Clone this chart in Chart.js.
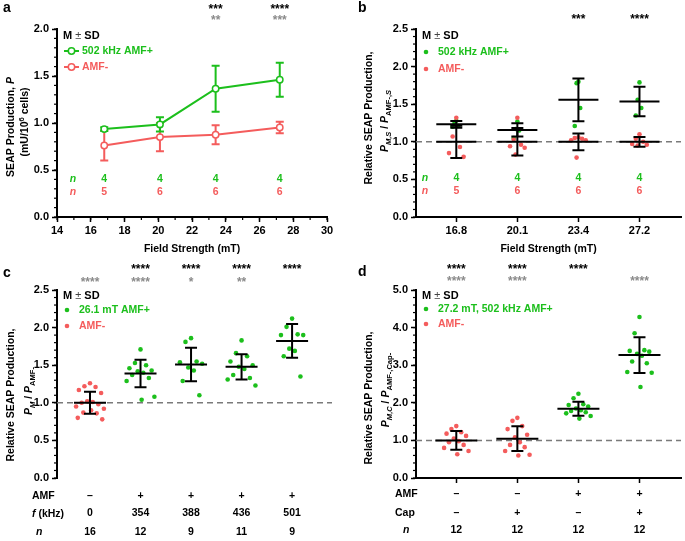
<!DOCTYPE html>
<html>
<head>
<meta charset="utf-8">
<script src="https://cdn.jsdelivr.net/npm/chart.js@4.4.1/dist/chart.umd.min.js"></script>
<style>
body { margin: 0; background: #fff; width: 685px; height: 541px; position: relative; overflow: hidden; }
canvas { position: absolute; }
</style>
</head>
<body>
<canvas id="chartA" width="340" height="262" style="left:0;top:0"></canvas>
<canvas id="chartB" width="345" height="262" style="left:340px;top:0"></canvas>
<canvas id="chartC" width="340" height="279" style="left:0;top:262px"></canvas>
<canvas id="chartD" width="345" height="279" style="left:340px;top:262px"></canvas>
<script>
// ---- data: panel a (absolute SEAP production vs field strength)
const fieldA = [16.8, 20.1, 23.4, 27.2];
const onMeanA = [0.935, 0.985, 1.365, 1.46];
const onSdA = [0.02, 0.075, 0.245, 0.18];
const offMeanA = [0.76, 0.85, 0.875, 0.952];
const offSdA = [0.16, 0.15, 0.1, 0.062];
const nOnA = ['4', '4', '4', '4'];
const nOffA = ['5', '6', '6', '6'];
const starsA = ['', '', '***', '****'];
const starsGrayA = ['', '', '**', '***'];

// ---- data: panel b (relative, per field strength)
const catsB = ['16.8', '20.1', '23.4', '27.2'];
const onB = [[1.28, 1.25, 1.21, 1.20], [1.27, 1.17, 1.15, 1.05], [1.80, 1.78, 1.45, 1.21], [1.79, 1.56, 1.45, 1.35]];
const offB = [[1.32, 1.07, 0.93, 0.85, 0.80], [1.32, 1.03, 0.96, 0.94, 0.92, 0.83],
              [1.06, 1.05, 1.04, 1.02, 1.02, 0.79], [1.10, 1.04, 1.00, 0.97, 0.96, 0.95]];
const onMeanB = [1.232, 1.158, 1.558, 1.536];
const onSdB = [0.045, 0.088, 0.285, 0.195];
const offMeanB = [1, 1, 1, 1];
const offSdB = [0.214, 0.183, 0.112, 0.065];
const nOnB = ['4', '4', '4', '4'];
const nOffB = ['5', '6', '6', '6'];
const starsB = ['', '', '***', '****'];

// ---- data: panel c (relative, per frequency)
const amfC = ['–', '+', '+', '+', '+'];
const freqC = ['0', '354', '388', '436', '501'];
const nC = ['16', '12', '9', '11', '9'];
const offC = [[1.26, 1.22, 1.21, 1.17, 1.13, 1.02, 1.01, 1.0, 0.98, 0.95, 0.92, 0.90, 0.87, 0.86, 0.80, 0.78]];
const onC = [[],
  [1.71, 1.53, 1.50, 1.46, 1.43, 1.42, 1.40, 1.37, 1.33, 1.29, 1.08, 1.04],
  [1.86, 1.81, 1.55, 1.54, 1.52, 1.47, 1.43, 1.29, 1.10],
  [1.83, 1.66, 1.62, 1.55, 1.50, 1.48, 1.45, 1.37, 1.33, 1.31, 1.23],
  [2.12, 2.01, 1.91, 1.90, 1.90, 1.72, 1.69, 1.62, 1.35]];
const meanC = [1.0, 1.39, 1.51, 1.478, 1.823];
const sdC = [0.147, 0.183, 0.222, 0.168, 0.225];
const starsC = ['', '****', '****', '****', '****'];
const starsGrayC = ['****', '****', '*', '**', ''];

// ---- data: panel d (relative, AMF x capsaicin)
const amfD = ['–', '–', '+', '+'];
const capD = ['–', '+', '–', '+'];
const nD = ['12', '12', '12', '12'];
const offD = [[1.38, 1.30, 1.22, 1.18, 1.12, 1.05, 0.98, 0.95, 0.88, 0.80, 0.72, 0.63],
              [1.60, 1.52, 1.38, 1.30, 1.15, 1.08, 0.95, 0.88, 0.82, 0.72, 0.62, 0.60]];
const onD = [[], [],
  [2.24, 2.12, 1.96, 1.94, 1.90, 1.85, 1.80, 1.78, 1.75, 1.72, 1.65, 1.58],
  [4.28, 3.85, 3.40, 3.38, 3.36, 3.30, 3.25, 3.10, 3.05, 2.82, 2.80, 2.42]];
const meanD = [1.0, 1.045, 1.84, 3.27];
const sdD = [0.25, 0.33, 0.185, 0.475];
const starsD = ['****', '****', '****', ''];
const starsGrayD = ['****', '****', '', '****'];

const FAMILY = '"Liberation Sans", Arial, sans-serif';
const GREEN = '#1cbf1c';
const RED = '#f45c5c';
const GRAY = '#8a8a8a';

Chart.defaults.font.family = FAMILY;
Chart.defaults.font.size = 11;
Chart.defaults.font.weight = 'bold';
Chart.defaults.color = '#000';
Chart.defaults.animation = false;
Chart.defaults.plugins.legend.display = false;
Chart.defaults.plugins.tooltip.enabled = false;

// horizontal spread for dot plots, alternating left/right
const JIT = [0, -1, 1, -2, 2, -0.5, 0.5, -1.5, 1.5, -2.5, 2.5, 0.2, -1.2, 1.2, -2.2, 2.2];
function swarm(groups, spread) {
    return groups.flatMap((vals, i) => vals.map((v, j) => ({ x: i + JIT[j % JIT.length] * spread, y: v })));
}

function text(ctx, str, x, y, o) {
    o = o || {};
    ctx.save();
    ctx.font = (o.it ? 'italic ' : '') + (o.normal ? '' : 'bold ') + (o.size || 10.5) + 'px ' + FAMILY;
    ctx.fillStyle = o.color || '#000';
    ctx.textAlign = o.align || 'center';
    ctx.textBaseline = 'middle';
    ctx.fillText(str, x, y);
    ctx.restore();
}

// text made of pieces (italic / sub / sup), optionally rotated
function rich(ctx, segs, x, y, o) {
    o = o || {};
    const size = o.size || 10.5;
    ctx.save();
    ctx.translate(x, y);
    if (o.rotate) ctx.rotate(-Math.PI / 2);
    let total = 0;
    const parts = segs.map(s => {
        const sz = (s.sub || s.sup) ? size * 0.72 : size;
        const f = (s.it ? 'italic ' : '') + (s.normal ? '' : 'bold ') + sz + 'px ' + FAMILY;
        ctx.font = f;
        const w = ctx.measureText(s.t).width;
        total += w;
        return { s, f, w };
    });
    let cx = o.align === 'left' ? 0 : -total / 2;
    ctx.textAlign = 'left';
    ctx.textBaseline = 'alphabetic';
    parts.forEach(p => {
        ctx.font = p.f;
        ctx.fillStyle = p.s.c || '#000';
        const dy = p.s.sub ? size * 0.3 : p.s.sup ? -size * 0.4 : 0;
        ctx.fillText(p.s.t, cx, dy + size * 0.36);
        cx += p.w;
    });
    ctx.restore();
}

function minorTicks(chart, axis, from, to, step) {
    const s = chart.scales[axis], ctx = chart.ctx;
    ctx.save();
    ctx.strokeStyle = '#000';
    ctx.lineWidth = 1.2;
    for (let k = 0; from + k * step <= to + 1e-9; k++) {
        const p = s.getPixelForValue(from + k * step);
        ctx.beginPath();
        if (axis === 'y') { ctx.moveTo(s.right, p); ctx.lineTo(s.right - 3, p); }
        else { ctx.moveTo(p, s.top); ctx.lineTo(p, s.top + 3); }
        ctx.stroke();
    }
    ctx.restore();
}

function errBar(chart, x, mean, sd, color, capHalf, meanHalf) {
    const ctx = chart.ctx, xs = chart.scales.x, ys = chart.scales.y;
    const px = xs.getPixelForValue(x);
    const top = ys.getPixelForValue(mean + sd), bot = ys.getPixelForValue(mean - sd);
    ctx.save();
    ctx.strokeStyle = color;
    ctx.lineWidth = 2;
    ctx.beginPath();
    ctx.moveTo(px, top); ctx.lineTo(px, bot);
    ctx.moveTo(px - capHalf, top); ctx.lineTo(px + capHalf, top);
    ctx.moveTo(px - capHalf, bot); ctx.lineTo(px + capHalf, bot);
    if (meanHalf) {
        const pm = ys.getPixelForValue(mean);
        ctx.moveTo(px - meanHalf, pm); ctx.lineTo(px + meanHalf, pm);
    }
    ctx.stroke();
    ctx.restore();
}

function refLine(chart) {
    const ctx = chart.ctx, a = chart.chartArea;
    const py = chart.scales.y.getPixelForValue(1);
    ctx.save();
    ctx.strokeStyle = '#7a7a7a';
    ctx.lineWidth = 1.5;
    ctx.setLineDash([6, 4]);
    ctx.beginPath();
    ctx.moveTo(a.left, py); ctx.lineTo(a.right, py);
    ctx.stroke();
    ctx.restore();
}

function stars(chart, list, y, color) {
    list.forEach((s, i) => {
        if (!s) return;
        const xv = chart.config.options.fieldX ? chart.config.options.fieldX[i] : i;
        text(chart.ctx, s, chart.scales.x.getPixelForValue(xv), y + 3, { size: 12, color: color });
    });
}

function legendMSD(ctx, x, y) {
    rich(ctx, [{ t: 'M' }, { t: ' ± ', normal: true, c: '#444' }, { t: 'SD' }], x, y, { align: 'left', size: 11 });
}

function dotLegend(ctx, x, y, color, label) {
    ctx.save();
    ctx.fillStyle = color;
    ctx.beginPath(); ctx.arc(x, y, 2.3, 0, Math.PI * 2); ctx.fill();
    ctx.restore();
    text(ctx, label, x + 12, y, { color: color, align: 'left' });
}

function yAxis(max, step, width) {
    return {
        min: 0, max: max,
        ticks: { stepSize: step, padding: 3, callback: v => v.toFixed(1) },
        grid: { drawOnChartArea: false, tickLength: 5, tickColor: '#000', tickWidth: 1.5 },
        border: { color: '#000', width: 2 },
        afterFit: s => { s.width = width; }
    };
}

function catAxis(min, max, count, height, labels, showLine) {
    return {
        type: 'linear', min: min, max: max,
        afterBuildTicks: s => { s.ticks = Array.from({ length: count }, (_, i) => ({ value: i })); },
        ticks: { padding: 2, callback: v => labels ? labels[v] : '' },
        grid: { display: showLine, drawOnChartArea: false, tickLength: 5, tickColor: '#000', tickWidth: 1.5 },
        border: { display: showLine, color: '#000', width: 2 },
        afterFit: s => { s.height = height; }
    };
}

const xTitle = { display: true, text: 'Field Strength (mT)', font: { size: 10.5, weight: 'bold' }, padding: { top: 0, bottom: 7 } };

// ---------------- panel a
new Chart(document.getElementById('chartA'), {
    type: 'line',
    data: {
        datasets: [
            { label: '502 kHz AMF+', data: fieldA.map((f, i) => ({ x: f, y: onMeanA[i] })), borderColor: GREEN },
            { label: 'AMF-', data: fieldA.map((f, i) => ({ x: f, y: offMeanA[i] })), borderColor: RED }
        ].map(d => Object.assign(d, {
            borderWidth: 2, pointRadius: 3.2, pointBorderWidth: 1.5,
            pointBackgroundColor: '#fff', pointBorderColor: d.borderColor, tension: 0
        }))
    },
    options: {
        responsive: false,
        fieldX: fieldA,
        layout: { padding: { left: 0, right: 13, top: 29, bottom: 0 } },
        scales: {
            x: {
                type: 'linear', min: 14, max: 30,
                ticks: { stepSize: 2, padding: 2 },
                grid: { drawOnChartArea: false, tickLength: 5, tickColor: '#000', tickWidth: 1.5 },
                border: { color: '#000', width: 2 },
                title: xTitle,
                afterFit: s => { s.height = 45; }
            },
            y: yAxis(2, 0.5, 57)
        }
    },
    plugins: [{
        id: 'panelA',
        beforeDatasetsDraw(chart) {
            fieldA.forEach((f, i) => {
                errBar(chart, f, offMeanA[i], offSdA[i], RED, 4, 0);
                errBar(chart, f, onMeanA[i], onSdA[i], GREEN, 4, 0);
            });
        },
        afterDraw(chart) {
            const ctx = chart.ctx, xs = chart.scales.x;
            minorTicks(chart, 'y', 0, 2, 0.1);
            minorTicks(chart, 'x', 14, 30, 1);
            text(ctx, 'a', 3, 8, { size: 14, align: 'left' });
            rich(ctx, [{ t: 'SEAP Production, ' }, { t: 'P', it: true }], 10, 127, { rotate: true });
            rich(ctx, [{ t: '(mU/10' }, { t: '6', sup: true }, { t: ' cells)' }], 24, 122, { rotate: true });
            legendMSD(ctx, 63, 35);
            [[51, GREEN, '502 kHz AMF+'], [67, RED, 'AMF-']].forEach(([y, c, l]) => {
                ctx.save();
                ctx.strokeStyle = c; ctx.lineWidth = 2;
                ctx.beginPath(); ctx.moveTo(64, y); ctx.lineTo(79, y); ctx.stroke();
                ctx.fillStyle = '#fff'; ctx.lineWidth = 1.5;
                ctx.beginPath(); ctx.arc(71.5, y, 3.2, 0, Math.PI * 2); ctx.fill(); ctx.stroke();
                ctx.restore();
                text(ctx, l, 82, y, { color: c, align: 'left' });
            });
            text(ctx, 'n', 73, 179, { it: true, color: GREEN });
            text(ctx, 'n', 73, 192, { it: true, color: RED });
            fieldA.forEach((f, i) => {
                text(ctx, nOnA[i], xs.getPixelForValue(f), 179, { color: GREEN });
                text(ctx, nOffA[i], xs.getPixelForValue(f), 192, { color: RED });
            });
            stars(chart, starsA, 7, '#000');
            stars(chart, starsGrayA, 18, GRAY);
        }
    }]
});

// ---------------- panel b
new Chart(document.getElementById('chartB'), {
    type: 'scatter',
    data: {
        datasets: [
            { label: 'AMF-', data: swarm(offB, 0.06), backgroundColor: RED, pointRadius: 2.3, borderWidth: 0 },
            { label: '502 kHz AMF+', data: swarm(onB, 0.03), backgroundColor: GREEN, pointRadius: 2.3, borderWidth: 0 }
        ]
    },
    options: {
        responsive: false,
        layout: { padding: { left: 0, right: 0, top: 29, bottom: 0 } },
        scales: {
            x: Object.assign(catAxis(-0.66, 3.68, 4, 45, catsB, true), { title: xTitle }),
            y: yAxis(2.5, 0.5, 76)
        }
    },
    plugins: [{
        id: 'panelB',
        beforeDatasetsDraw(chart) { refLine(chart); },
        afterDatasetsDraw(chart) {
            catsB.forEach((c, i) => {
                errBar(chart, i, offMeanB[i], offSdB[i], '#000', 6, 20);
                errBar(chart, i, onMeanB[i], onSdB[i], '#000', 6, 20);
            });
        },
        afterDraw(chart) {
            const ctx = chart.ctx, xs = chart.scales.x;
            minorTicks(chart, 'y', 0, 2.5, 0.1);
            text(ctx, 'b', 18, 8, { size: 14, align: 'left' });
            rich(ctx, [{ t: 'Relative SEAP Production,' }], 28, 118, { rotate: true });
            rich(ctx, [{ t: 'P', it: true }, { t: 'M,S', it: true, sub: true }, { t: ' / ' },
                       { t: 'P', it: true }, { t: 'AMF-,', sub: true }, { t: 'S', it: true, sub: true }], 44, 121, { rotate: true });
            legendMSD(ctx, 82, 35);
            dotLegend(ctx, 86, 52, GREEN, '502 kHz AMF+');
            dotLegend(ctx, 86, 69, RED, 'AMF-');
            text(ctx, 'n', 85, 178, { it: true, color: GREEN });
            text(ctx, 'n', 85, 191, { it: true, color: RED });
            catsB.forEach((c, i) => {
                text(ctx, nOnB[i], xs.getPixelForValue(i), 178, { color: GREEN });
                text(ctx, nOffB[i], xs.getPixelForValue(i), 191, { color: RED });
            });
            stars(chart, starsB, 17, '#000');
        }
    }]
});

// ---------------- panel c
new Chart(document.getElementById('chartC'), {
    type: 'scatter',
    data: {
        datasets: [
            { label: 'AMF-', data: swarm(offC, 0.11), backgroundColor: RED, pointRadius: 2.3, borderWidth: 0 },
            { label: '26.1 mT AMF+', data: swarm(onC, 0.11), backgroundColor: GREEN, pointRadius: 2.3, borderWidth: 0 }
        ]
    },
    options: {
        responsive: false,
        layout: { padding: { left: 0, right: 8, top: 28, bottom: 0 } },
        scales: {
            x: catAxis(-0.653, 4.79, 5, 63, null, false),
            y: yAxis(2.5, 0.5, 57)
        }
    },
    plugins: [{
        id: 'panelC',
        beforeDatasetsDraw(chart) { refLine(chart); },
        afterDatasetsDraw(chart) {
            meanC.forEach((m, i) => errBar(chart, i, m, sdC[i], '#000', 6, 16));
        },
        afterDraw(chart) {
            const ctx = chart.ctx, xs = chart.scales.x;
            minorTicks(chart, 'y', 0, 2.5, 0.1);
            text(ctx, 'c', 3, 11, { size: 14, align: 'left' });
            rich(ctx, [{ t: 'Relative SEAP Production,' }], 10, 133, { rotate: true });
            rich(ctx, [{ t: 'P', it: true }, { t: 'M', it: true, sub: true }, { t: ' / ' },
                       { t: 'P', it: true }, { t: 'AMF-', sub: true }], 28, 129, { rotate: true });
            legendMSD(ctx, 63, 33);
            dotLegend(ctx, 67, 48, GREEN, '26.1 mT AMF+');
            dotLegend(ctx, 67, 64, RED, 'AMF-');
            text(ctx, 'AMF', 32, 234, { align: 'left' });
            rich(ctx, [{ t: 'f', it: true }, { t: ' (kHz)' }], 32, 251, { align: 'left' });
            text(ctx, 'n', 36, 270, { it: true, align: 'left' });
            amfC.forEach((a, i) => {
                const px = xs.getPixelForValue(i);
                text(ctx, a, px, 234);
                text(ctx, freqC[i], px, 251);
                text(ctx, nC[i], px, 270);
            });
            stars(chart, starsC, 5, '#000');
            stars(chart, starsGrayC, 18, GRAY);
        }
    }]
});

// ---------------- panel d
new Chart(document.getElementById('chartD'), {
    type: 'scatter',
    data: {
        datasets: [
            { label: 'AMF-', data: swarm(offD, 0.08), backgroundColor: RED, pointRadius: 2.3, borderWidth: 0 },
            { label: '27.2 mT, 502 kHz AMF+', data: swarm(onD, 0.08), backgroundColor: GREEN, pointRadius: 2.3, borderWidth: 0 }
        ]
    },
    options: {
        responsive: false,
        layout: { padding: { left: 0, right: 0, top: 28, bottom: 0 } },
        scales: {
            x: catAxis(-0.66, 3.68, 4, 63, null, true),
            y: yAxis(5, 1, 76)
        }
    },
    plugins: [{
        id: 'panelD',
        beforeDatasetsDraw(chart) { refLine(chart); },
        afterDatasetsDraw(chart) {
            meanD.forEach((m, i) => errBar(chart, i, m, sdD[i], '#000', 6, 21));
        },
        afterDraw(chart) {
            const ctx = chart.ctx, xs = chart.scales.x;
            minorTicks(chart, 'y', 0, 5, 0.2);
            text(ctx, 'd', 18, 10, { size: 14, align: 'left' });
            rich(ctx, [{ t: 'Relative SEAP Production,' }], 28, 136, { rotate: true });
            rich(ctx, [{ t: 'P', it: true }, { t: 'M,C', it: true, sub: true }, { t: ' / ' },
                       { t: 'P', it: true }, { t: 'AMF-,Cap-', sub: true }], 45, 128, { rotate: true });
            legendMSD(ctx, 82, 33);
            dotLegend(ctx, 86, 47, GREEN, '27.2 mT, 502 kHz AMF+');
            dotLegend(ctx, 86, 62, RED, 'AMF-');
            text(ctx, 'AMF', 55, 232, { align: 'left' });
            text(ctx, 'Cap', 55, 251, { align: 'left' });
            text(ctx, 'n', 63, 268, { it: true, align: 'left' });
            amfD.forEach((a, i) => {
                const px = xs.getPixelForValue(i);
                text(ctx, a, px, 232);
                text(ctx, capD[i], px, 251);
                text(ctx, nD[i], px, 268);
            });
            stars(chart, starsD, 5, '#000');
            stars(chart, starsGrayD, 17, GRAY);
        }
    }]
});
</script>
</body>
</html>
